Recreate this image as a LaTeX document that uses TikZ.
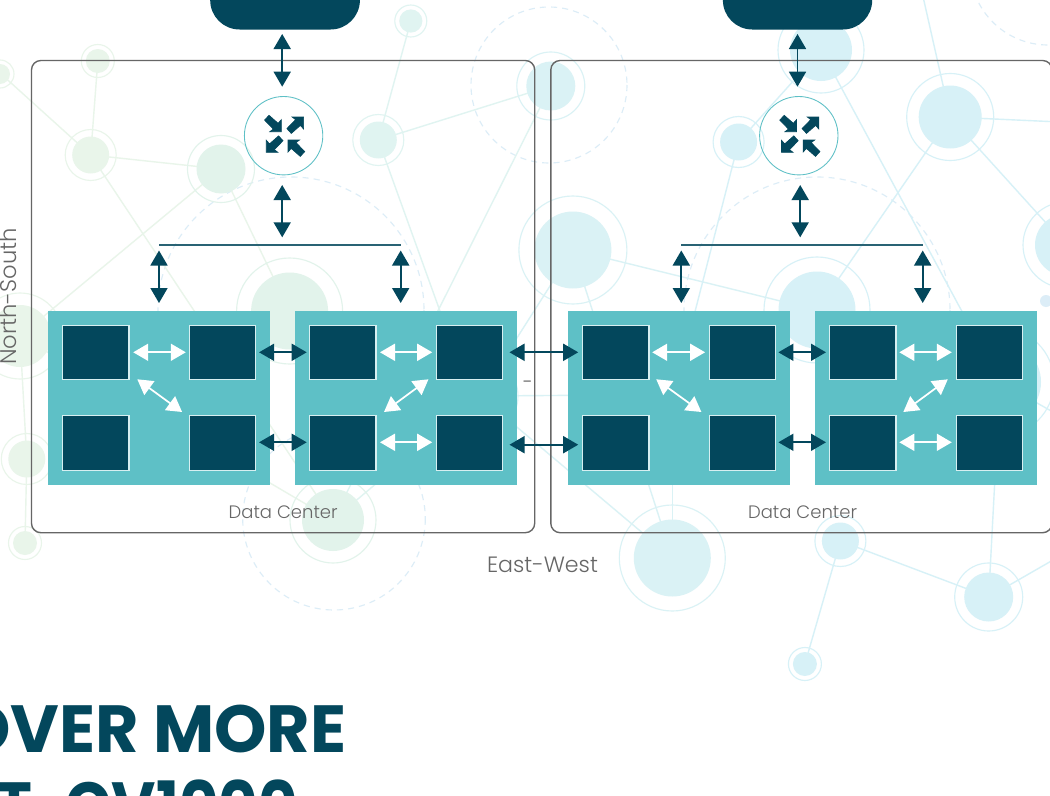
\documentclass[tikz,border=0pt]{standalone}
\usepackage{fontspec}
\setmainfont{Poppins}
\newfontfamily\lightfont{Poppins Light}
\usetikzlibrary{arrows.meta}
\definecolor{navy}{HTML}{03475C}
\definecolor{panelc}{HTML}{5EC0C6}
\definecolor{grayc}{HTML}{666666}
\definecolor{gA}{HTML}{E9F5EA}
\definecolor{gB}{HTML}{E2F3EB}
\definecolor{tA}{HTML}{E0F4F1}
\definecolor{tB}{HTML}{DAF2F5}
\definecolor{bA}{HTML}{D7F1F7}
\definecolor{dashc}{HTML}{DCEDF7}
\tikzset{
  x=0.75pt,y=-0.75pt,
  dashring/.style={draw=dashc,line width=0.85pt,dash pattern=on 4.6pt off 3.8pt},
  bgline/.style={line width=1.05pt},
  dcbox/.style={draw=grayc,line width=1.05pt,rounded corners=7pt},
  panel/.style={fill=panelc},
  server/.style={fill=navy,draw=white!75!panelc,line width=0.8pt},
  toprect/.style={fill=navy,rounded corners=22pt},
  router/.style={draw=panelc,line width=0.65pt,fill=none},
  darrow/.style={draw=navy,line width=1.3pt,{Triangle[length=11.25pt,width=12.75pt,fill=navy]}-{Triangle[length=11.25pt,width=12.75pt,fill=navy]}},
  warrow/.style={draw=white,line width=1.3pt,{Triangle[length=11.25pt,width=12.75pt,fill=white]}-{Triangle[length=11.25pt,width=12.75pt,fill=white]}},
  bar/.style={draw=navy!85!white,line width=1.2pt},
  label/.style={text=grayc,inner sep=0pt,font=\lightfont\fontsize{13.5pt}{16pt}\selectfont},
  biglabel/.style={text=grayc,inner sep=0pt,font=\lightfont\fontsize{16.6pt}{20pt}\selectfont},
  nslabel/.style={text=grayc,inner sep=0pt,font=\lightfont\fontsize{17pt}{20pt}\selectfont},
  headline/.style={text=navy,inner sep=0pt,font=\bfseries\fontsize{50pt}{57pt}\selectfont},
}
\newcommand{\bubble}[5]{%
  \draw[draw=#5,line width=0.85pt] (#1,#2) circle[radius=#4];
  \fill[#5] (#1,#2) circle[radius=#3];}
\newcommand{\iconarrow}[4]{%
  \begin{scope}[shift={(#1,#2)},xscale=#3,yscale=#4]
    \filldraw[fill=navy,draw=navy,line width=0.5pt,line join=miter] (0,0) -- (0,-12) -- (-3.2,-8.4) -- (-12.3,-16.4) -- (-16.7,-11.6) -- (-8,-2.6) -- (-11.5,0) -- cycle;
  \end{scope}}
\begin{document}
\begin{tikzpicture}
\useasboundingbox (0,0) rectangle (1050,796);
\clip (0,0) rectangle (1050,796);
\fill[white] (0,0) rectangle (1050,796);

% background network
\draw[dashring] (549,85) circle[radius=78];
\draw[dashring] (291,310) circle[radius=133];
\draw[dashring] (334,518.7) circle[radius=91.3];
\draw[dashring] (817,310) circle[radius=133];
\draw[dashring] (1048,-33) circle[radius=78];

\foreach \xa/\ya/\xb/\yb in {0/73/90.7/155,97.8/61/90.7/155,90.7/155/221/169,90.7/155/333/520,20/336/333/520,221/169/20/336,221/169/289.6/311,20/336/26.8/459,26.8/459/25/543}
  \draw[gA,bgline] (\xa,\ya) -- (\xb,\yb);
\foreach \xa/\ya/\xb/\yb in {378.3/140/410.8/21,378.3/140/550.8/86,378.3/140/445/325,550.8/86/340/506,480/396/333/520}
  \draw[tA,bgline] (\xa,\ya) -- (\xb,\yb);
\foreach \xa/\ya/\xb/\yb in {572.9/250/817/310,572.9/250/672.3/558,672.3/558/672.3/400,480/396/672.3/558,480/396/572.9/250,480/396/620/395}
  \draw[tB,bgline] (\xa,\ya) -- (\xb,\yb);
\foreach \xa/\ya/\xb/\yb in {821/50/738.6/142,821/50/1000/382,950.2/117/917/-30,950.2/117/1066/245,950.2/117/1060/122,950.2/117/817/310,738.6/142/672.3/400,840.4/541/988.7/597,840.4/541/804.9/664,988.7/597/1060/556,988.7/597/1000/382,1000/382/1060/416}
  \draw[bA,bgline] (\xa,\ya) -- (\xb,\yb);

\bubble{0}{74}{10}{14}{gA}
\bubble{97.8}{61}{12}{16.5}{gA}
\bubble{90.7}{155}{18.5}{25.5}{gA}
\bubble{221}{169}{24.5}{33.5}{gB}
\bubble{289.6}{311}{38.5}{53}{gB}
\bubble{333}{520}{31}{43}{gB}
\bubble{20}{336}{31}{43}{gA}
\bubble{26.8}{459}{18.5}{25.5}{gA}
\bubble{25}{543}{12}{16.5}{gA}
\bubble{378.3}{140}{18.5}{25.5}{tA}
\bubble{410.8}{21}{11.6}{16}{tA}
\bubble{480}{396}{26}{38}{tB}
\bubble{550.8}{86}{24.5}{34}{tB}
\bubble{572.9}{250}{38.5}{54}{tB}
\bubble{672.3}{558}{38.5}{53}{tB}
\bubble{738.6}{142}{18.5}{25.5}{bA}
\bubble{821}{50}{31}{43}{bA}
\bubble{950.2}{117}{31.5}{43.5}{bA}
\bubble{817}{310}{38.5}{53}{bA}
\bubble{1066}{245}{31}{43}{bA}
\bubble{1000}{382}{41}{54}{bA}
\bubble{840.4}{541}{18.5}{25.5}{bA}
\bubble{988.7}{597}{24.5}{34}{bA}
\bubble{804.9}{664}{12}{16.5}{bA}
\fill[dashc] (1046,301) circle[radius=6];

% data centre frames
\draw[dcbox] (31.5,60.5) rectangle (534.7,532.7);
\draw[dcbox] (550.8,60.5) rectangle (1052,532.7);

% top bars
\fill[toprect] (210.2,-60) rectangle (359.9,29.5);
\fill[toprect] (722.9,-60) rectangle (872.2,29.5);
\node[inner sep=0pt,minimum width=112.3pt,minimum height=67pt,anchor=south] (topA) at (285,29.5) {};
\node[inner sep=0pt,minimum width=112pt,minimum height=67pt,anchor=south] (topB) at (797.5,29.5) {};

% routers
\node[router,circle,inner sep=0pt,minimum size=58.8pt] (routerA) at (283.6,135.7) {};
\node[router,circle,inner sep=0pt,minimum size=58.8pt] (routerB) at (798.8,135.7) {};
\foreach \c in {283.6,798.8}{
  \iconarrow{\c-2.3}{131.7}{1}{1}
  \iconarrow{\c+4.4}{140}{-1}{-1}
  \iconarrow{\c+20}{117}{1}{-1}
  \iconarrow{\c-17.3}{152.3}{-1}{1}
}

% distribution bars
\coordinate (barAl) at (159,244.7);
\coordinate (barAr) at (400.7,244.7);
\coordinate (barBl) at (681.3,244.7);
\coordinate (barBr) at (922.7,244.7);
\draw[bar] (barAl) -- (barAr);
\draw[bar] (barBl) -- (barBr);

% panels
\foreach \n/\x in {pA/48,pB/295,pC/568,pD/815}{
  \fill[panel] (\x,311) rectangle ({\x+222},484.7);
  \node[server,minimum width=49.7pt,minimum height=40.8pt,inner sep=0pt,anchor=north west] (\n1) at ({\x+14.2},325) {};
  \node[server,minimum width=49.7pt,minimum height=40.8pt,inner sep=0pt,anchor=north west] (\n2) at ({\x+141},325) {};
  \node[server,minimum width=49.7pt,minimum height=40.8pt,inner sep=0pt,anchor=north west] (\n3) at ({\x+14.2},415.3) {};
  \node[server,minimum width=49.7pt,minimum height=40.8pt,inner sep=0pt,anchor=north west] (\n4) at ({\x+141},415.3) {};
}

% dark connectors
\foreach \n/\xa/\ya/\xb/\yb in {
  ta/282.2/34/282.2/86.7, tb/797.5/34/797.5/86.7,
  ma/282.2/185/282.2/237.3, mb/800.2/185/800.2/237.3,
  la/159/250.5/159/303, lb/400.7/250.5/400.7/303,
  lc/681.3/250.5/681.3/303, ld/922.7/250.5/922.7/303,
  h1/259.1/352.3/306.7/352.3, h2/259.1/442.3/306.7/442.3,
  h3/509.5/352.3/578.2/352.3, h4/509.5/444.7/578.2/444.7,
  h5/778.4/352.3/826/352.3, h6/778.4/442.3/826/442.3}{
  \coordinate (\n s) at (\xa,\ya);
  \coordinate (\n e) at (\xb,\yb);
  \draw[darrow] (\n s) -- (\n e);
}
% white connectors
\foreach \n/\xa/\ya/\xb/\yb in {
  w1/133.2/352.3/185.8/352.3, w2/137.3/379.3/182.1/412,
  w3/380/352.3/432.2/352.3, w4/428.5/379.3/384/412, w5/380/442.3/432.2/442.3,
  w6/652.2/352.3/705.1/352.3, w7/656.2/379.3/701.4/412,
  w8/899.3/352.3/951.8/352.3, w9/947.8/379.3/903.3/412, w10/899.3/442.3/951.8/442.3}{
  \coordinate (\n s) at (\xa,\ya);
  \coordinate (\n e) at (\xb,\yb);
  \draw[warrow] (\n s) -- (\n e);
}

% labels
\node[label] (dcA) at (283.2,512) {Data Center};
\node[label] (dcB) at (802.6,512) {Data Center};
\node[biglabel] (ew) at (542.5,565) {East-West};
\node[nslabel,rotate=90] (ns) at (8,296.5) {North-South};
\node[text=grayc!85!black,inner sep=0pt,font=\lightfont\fontsize{14pt}{16pt}\selectfont] (dash) at (528,385) {-};
\node[headline,anchor=base east] (hlA) at (346.5,752.7) {OVER MORE};
\node[headline,anchor=base east,xscale=0.91,transform shape] (hlB) at (298,829.5) {UT\hspace{17pt} CV1000};
\end{tikzpicture}
\end{document}
